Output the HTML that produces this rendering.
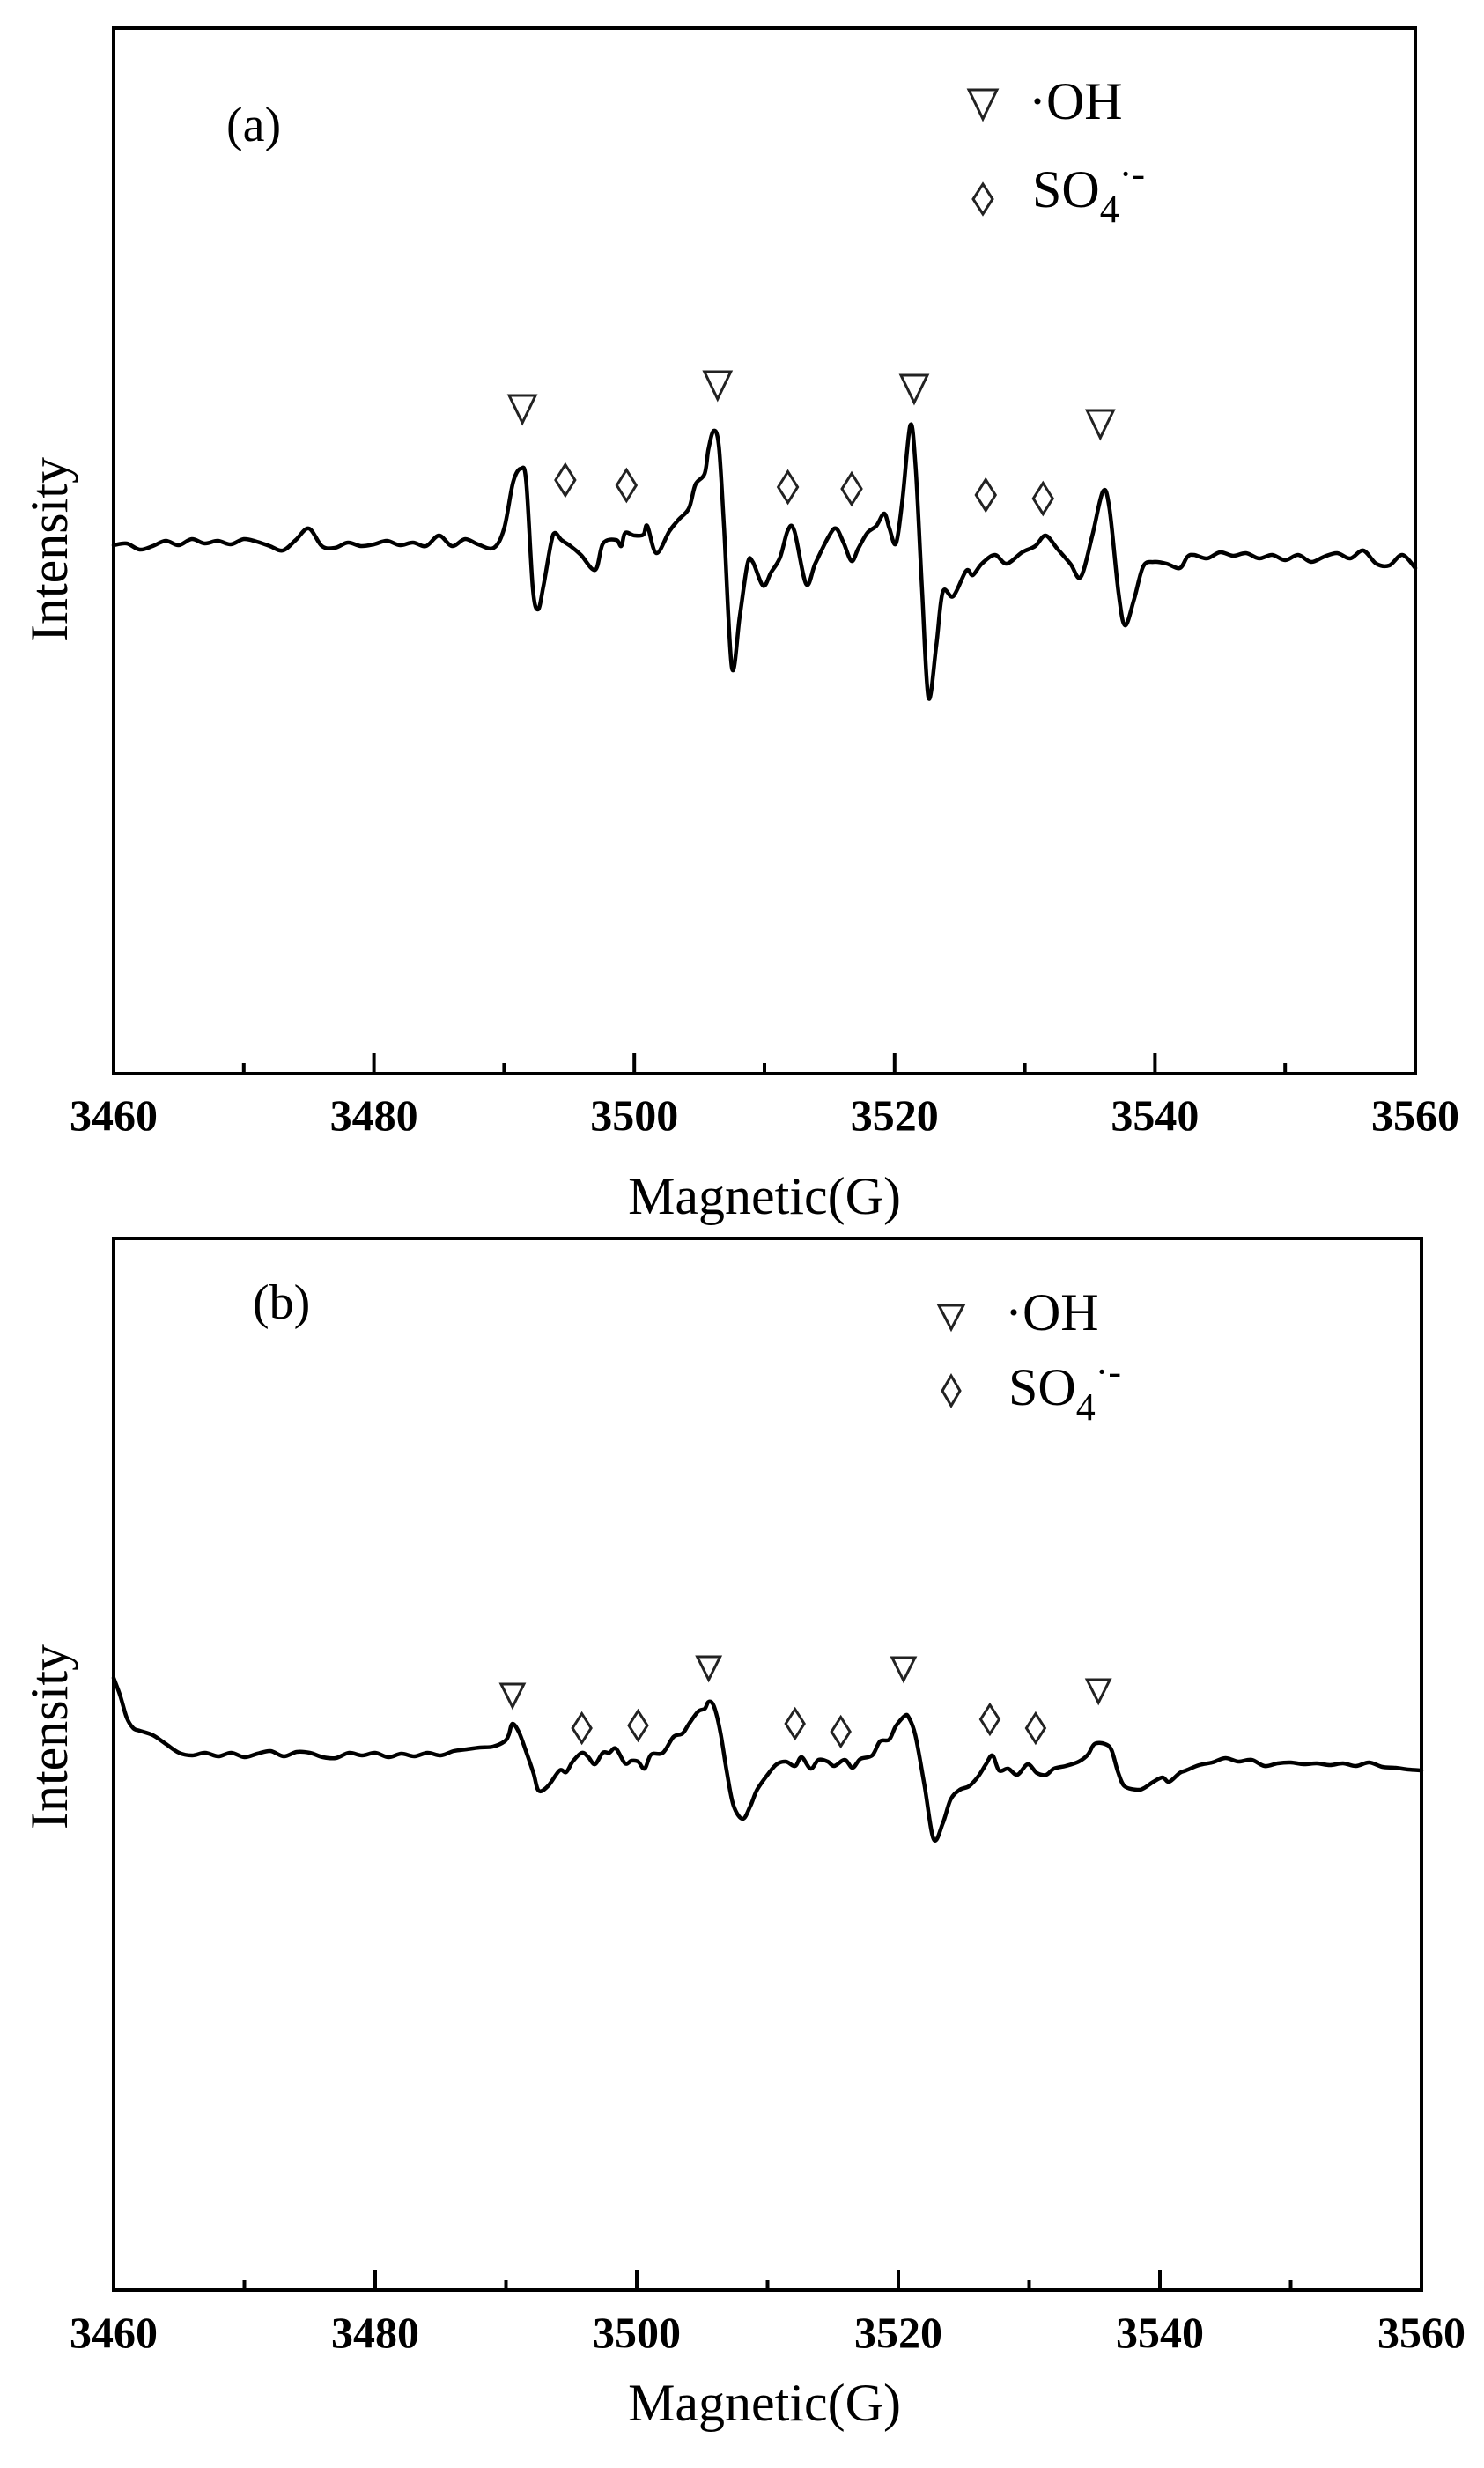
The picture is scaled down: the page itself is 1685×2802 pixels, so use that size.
<!DOCTYPE html>
<html><head><meta charset="utf-8"><style>
html,body{margin:0;padding:0;background:#fff;}
svg{display:block;}
text{font-family:"Liberation Serif","DejaVu Serif",serif;fill:#000;}
</style></head><body>
<svg id="fig" width="1685" height="2802" viewBox="0 0 1685 2802" xmlns="http://www.w3.org/2000/svg"></svg>
<script>
// ---------- Panel (a) data ----------
const aField = [3460,3461,3462,3463,3464,3465,3466,3467,3468,3469,3470,3471,3472,3473,3474,3475,3476,3477,3478,3479,3480,3481,3482,3483,3484,3485,3486,3487,3488,
3489.2,3490.0,3490.7,3491.3,3491.7,3492.2,3492.6,3493.0,3493.6,3493.9,3494.4,3495.1,3495.9,3497.0,3497.6,3498.6,3499.0,3499.3,3500.0,3500.7,3501.0,3501.7,3502.7,3503.4,3504.2,3504.7,3505.4,3505.7,3506.1,3506.5,3506.9,3507.5,3508.1,3508.7,3509.1,3509.9,3510.5,3511.2,3511.8,3512.3,3513.2,3513.9,3514.9,3515.5,3516.1,3516.7,3517.2,3517.9,3518.6,3519.2,3519.6,3520.1,3520.6,3521.2,3521.6,3522.1,3522.6,3523.2,3523.7,3524.5,3525.5,3526.0,3526.7,3527.7,3528.6,3529.8,3530.8,3531.6,3532.5,3533.5,3534.3,3535.2,3536.0,3536.5,3537.2,3537.7,3538.4,3539.1,3539.9,3540.9,3541.9,
3542.5,3543,3544,3545,3546,3547,3548,3549,3550,3551,3552,3553,3554,3555,3556,3557,3558,3559,3560];
const aIntensity = [60.0,60.2,59.5,59.9,60.5,60.0,60.7,60.2,60.5,60.1,60.7,60.4,59.9,59.4,60.6,61.9,59.9,59.7,60.3,59.9,60.1,60.5,60.0,60.3,59.9,61.1,59.9,60.7,60.1,
59.7,61.9,67.2,68.7,67.2,55.2,52.7,55.2,60.2,61.4,60.6,59.9,58.9,57.2,60.2,60.6,59.9,61.4,61.1,61.2,62.2,59.1,61.6,62.9,64.2,66.9,68.1,70.9,73.0,71.2,61.9,46.1,51.9,57.9,58.1,55.4,56.9,58.6,61.7,61.6,55.6,57.9,60.9,61.9,60.2,58.2,59.6,61.4,62.2,63.6,61.9,60.2,65.2,73.6,69.2,55.2,42.7,48.6,54.7,54.2,57.1,56.6,57.9,58.9,57.9,59.2,59.9,61.1,59.6,57.9,56.4,61.2,66.1,64.2,54.6,50.9,53.9,57.6,58.1,57.9,57.4,
58.7,58.9,58.5,59.2,58.8,59.1,58.5,58.9,58.3,58.9,58.1,58.7,59.1,58.5,59.4,57.9,57.7,58.9,57.4];
const aOHField = [3491.4,3506.4,3521.5,3535.8];
const aOHLevel = [73.9,76.6,76.2,72.2];
const aSO4Field = [3494.7,3499.4,3511.8,3516.7,3527.0,3531.4];
const aSO4Level = [67.4,66.8,66.6,66.4,65.7,65.3];

// ---------- Panel (b) data ----------
const bField = [3460,3460.5,3461,3461.5,3462,3463,3464,3465,3466,3467,3468,3469,3470,3471,3472,3473,3474,3475,3476,3477,3478,3479,3480,3481,3482,3483,3484,3485,3486,3487,3488,
3489.0,3489.9,3490.2,3490.5,3491.0,3491.5,3492.1,3492.5,3493.2,3494.1,3494.6,3495.1,3495.8,3496.3,3496.8,3497.4,3497.9,3498.4,3499.1,3499.6,3500.1,3500.6,3501.1,3502.0,3502.8,3503.5,3504.0,3504.7,3505.2,3505.5,3505.9,3506.4,3506.9,3507.4,3508.1,3508.7,3509.2,3510.1,3510.7,3511.4,3512.1,3512.6,3513.3,3513.9,3514.6,3515.1,3515.9,3516.5,3517.1,3518.0,3518.6,3519.3,3519.8,3520.5,3520.8,3521.3,3522.0,3522.7,3523.4,3524.0,3524.7,3525.4,3526.1,3526.7,3527.2,3527.7,3528.4,3529.1,3529.9,3530.6,3531.3,3531.9,3532.8,3533.8,3534.5,3535.0,3535.8,3536.3,3536.8,3537.3,3538.3,3538.8,3539.5,3540.2,3540.7,3541.5,
3542,3543,3544,3545,3546,3547,3548,3549,3550,3551,3552,3553,3554,3555,3556,3557,3558,3559,3560];
const bIntensity = [69.5,67.5,65.0,63.8,63.5,63.0,62.0,61.0,60.7,61.0,60.6,61.0,60.5,60.9,61.2,60.6,61.1,61.0,60.5,60.4,61.0,60.7,61.0,60.5,60.9,60.6,61.0,60.7,61.2,61.4,61.6,
61.7,62.3,63.0,64.3,63.3,61.3,58.7,56.7,57.2,59.0,58.8,60.0,61.0,60.5,59.7,61.0,61.0,61.5,59.8,60.1,60.0,59.2,60.8,61.0,62.8,63.2,64.3,65.7,66.0,66.8,66.3,63.3,58.7,55.0,53.5,55.0,56.8,58.7,59.7,60.0,59.5,60.5,59.2,60.2,60.0,59.5,60.2,59.3,60.3,60.7,62.3,62.5,64.0,65.2,65.0,63.0,57.3,51.2,53.0,55.7,56.8,57.2,58.3,59.7,60.7,59.0,59.2,58.5,59.7,58.7,58.5,59.2,59.5,60.0,60.8,62.0,62.0,61.3,58.8,57.2,56.8,57.0,57.7,58.2,57.7,58.7,
59.0,59.6,59.9,60.4,60.0,60.2,59.5,59.8,59.9,59.7,59.8,59.6,59.8,59.5,59.9,59.4,59.3,59.1,59.0];
const bOHField = [3490.5,3505.5,3520.4,3535.3];
const bOHLevel = [66.2,69.3,69.2,66.7];
const bSO4Field = [3495.8,3500.1,3512.1,3515.6,3527.0,3530.5];
const bSO4Level = [63.8,64.1,64.3,63.4,64.8,63.8];

const tickMajor = [3460,3480,3500,3520,3540,3560];
const tickMinor = [3470,3490,3510,3530,3550];

const NS = "http://www.w3.org/2000/svg";
const svg = document.getElementById('fig');
function mk(tag, attrs, parent){
  const e = document.createElementNS(NS, tag);
  for (const k in attrs) e.setAttribute(k, attrs[k]);
  (parent||svg).appendChild(e);
  return e;
}

function smoothPath(pts){
  let d = 'M' + pts[0][0].toFixed(1) + ' ' + pts[0][1].toFixed(1);
  for (let i=0;i<pts.length-1;i++){
    const p0 = pts[i-1]||pts[i], p1 = pts[i], p2 = pts[i+1], p3 = pts[i+2]||p2;
    const c1x = p1[0] + (p2[0]-p0[0])/6, c1y = p1[1] + (p2[1]-p0[1])/6;
    const c2x = p2[0] - (p3[0]-p1[0])/6, c2y = p2[1] - (p3[1]-p1[1])/6;
    d += 'C'+c1x.toFixed(1)+' '+c1y.toFixed(1)+' '+c2x.toFixed(1)+' '+c2y.toFixed(1)+' '+p2[0].toFixed(1)+' '+p2[1].toFixed(1);
  }
  return d;
}

function panel(cfg){
  const g = mk('g', {});
  
  
  const L=cfg.left, R=cfg.right, T=cfg.top, B=cfg.bottom;
  const xs = v => L + (v-3460)/100*(R-L);
  const yS = v => B - v*10;

  const frame = mk('rect', {x:L, y:T, width:R-L, height:B-T, fill:'none', stroke:'#000', 'stroke-width':4}, g);
  
  

  tickMajor.forEach(t=>{
    const l = mk('line', {x1:xs(t), x2:xs(t), y1:B, y2:B-23, stroke:'#000','stroke-width':4}, g);
    
    
    const tx = mk('text', {x:xs(t), y:cfg.tickY, 'text-anchor':'middle','font-size':50,'font-weight':'bold'}, g);
    tx.textContent = t;
    
    
  });
  tickMinor.forEach(t=>{
    const l = mk('line', {x1:xs(t), x2:xs(t), y1:B, y2:B-12, stroke:'#000','stroke-width':4}, g);
    
    
  });

  const pts = cfg.field.map((f,i)=>[xs(f), yS(cfg.inten[i])]);
  const p = mk('path', {d:smoothPath(pts), fill:'none', stroke:'#000','stroke-width':4.5,'stroke-linejoin':'round','stroke-linecap':'round'}, g);
  
  

  cfg.ohF.forEach((f,i)=>{
    const x=xs(f), y=yS(cfg.ohL[i]), w=cfg.triW/2, h=cfg.triH;
    const t = mk('polygon', {points:`${x-w},${y-h} ${x+w},${y-h} ${x},${y}`, fill:'none', stroke:'#222','stroke-width':3}, g);
    
    
  });
  cfg.soF.forEach((f,i)=>{
    const x=xs(f), y=yS(cfg.soL[i]), w=cfg.diaW/2, h=cfg.diaH/2;
    const t = mk('polygon', {points:`${x},${y-h} ${x+w},${y} ${x},${y+h} ${x-w},${y}`, fill:'none', stroke:'#222','stroke-width':3}, g);
    
    
  });
}

panel({name:'panel-a', left:129, right:1607, top:32, bottom:1219, tickY:1283,
  field:aField, inten:aIntensity, ohF:aOHField, ohL:aOHLevel, soF:aSO4Field, soL:aSO4Level,
  triW:30, triH:31, diaW:22, diaH:35});
panel({name:'panel-b', left:129, right:1614, top:1406, bottom:2600, tickY:2665,
  field:bField, inten:bIntensity, ohF:bOHField, ohL:bOHLevel, soF:bSO4Field, soL:bSO4Level,
  triW:26, triH:26, diaW:21, diaH:33});
</script>
<svg style="position:absolute;left:0;top:0" width="1685" height="2802">
  <text x="257" y="160" font-size="56">(a)</text>
  <text x="287" y="1497" font-size="56">(b)</text>
  <text x="868" y="1378" text-anchor="middle" font-size="60">Magnetic(G)</text>
  <text x="868" y="2748" text-anchor="middle" font-size="60">Magnetic(G)</text>
  <text transform="translate(76,624) rotate(-90)" text-anchor="middle" font-size="60">Intensity</text>
  <text transform="translate(76,1972) rotate(-90)" text-anchor="middle" font-size="60">Intensity</text>
  <g>
    <polygon points="1100,102 1132,102 1116,135" fill="none" stroke="#222" stroke-width="3"/>
    <text x="1168" y="135" font-size="60">·OH</text>
    <polygon points="1116,209 1127,226 1116,243 1105,226" fill="none" stroke="#222" stroke-width="3"/>
    <text x="1172" y="235" font-size="60">SO<tspan font-size="44" dy="17">4</tspan><tspan font-size="44" dy="-40">·-</tspan></text>
  </g>
  <g>
    <polygon points="1066,1482 1094,1482 1080,1509" fill="none" stroke="#222" stroke-width="3"/>
    <text x="1141" y="1510" font-size="60">·OH</text>
    <polygon points="1080,1562 1090,1579 1080,1596 1070,1579" fill="none" stroke="#222" stroke-width="3"/>
    <text x="1145" y="1595" font-size="60">SO<tspan font-size="44" dy="17">4</tspan><tspan font-size="44" dy="-40">·-</tspan></text>
  </g>
</svg>
</body></html>
